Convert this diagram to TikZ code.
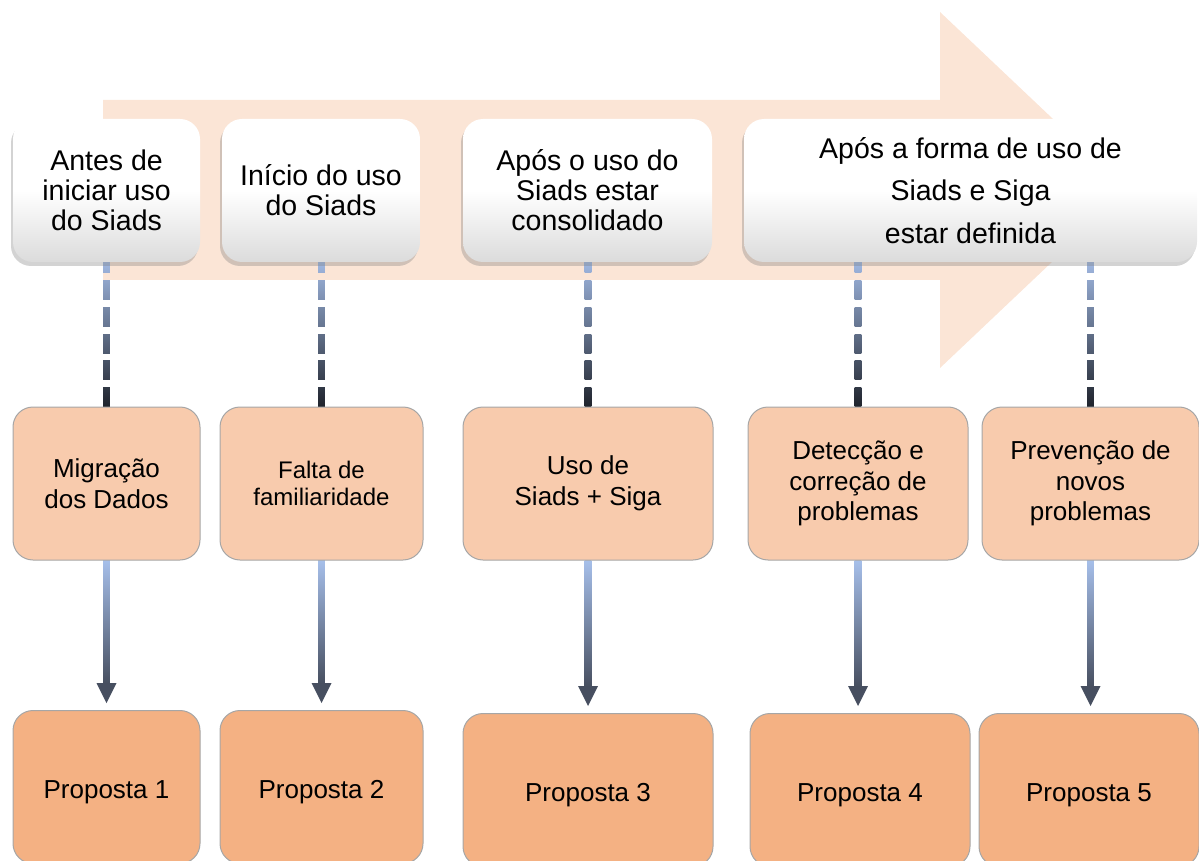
\documentclass[tikz,border=0pt]{standalone}
\usepackage{fontspec}
\setmainfont{Liberation Sans}
\usepackage{tikz}
\usetikzlibrary{calc}
\usetikzlibrary{shadows}

\definecolor{seta}{HTML}{FBE5D6}
\definecolor{laranjaclaro}{HTML}{F8CBAD}
\definecolor{laranja}{HTML}{F4B183}
\definecolor{borda}{HTML}{A6A6A6}
\definecolor{azulclaro}{HTML}{A6BFEA}
\definecolor{escuro}{HTML}{1F232C}
\definecolor{ardosia}{HTML}{474F60}

\pgfdeclarelayer{fundo}
\pgfdeclarelayer{linhas}
\pgfsetlayers{fundo,linhas,main}

\begin{document}
\begin{tikzpicture}[x=0.5pt, y=-0.5pt,
    fase/.style={rounded corners=10pt, top color=white, bottom color=black!14, middle color=white,
        drop shadow={opacity=0.35, shadow xshift=-1pt, shadow yshift=-2pt},
        align=center, minimum height=71.5pt, inner sep=0pt, font=\fontsize{14.25}{15}\selectfont},
    causa/.style={rounded corners=10pt, draw=borda, line width=0.5pt, fill=laranjaclaro,
        align=center, minimum height=76.5pt, inner sep=0pt, font=\fontsize{13}{15.25}\selectfont,
        execute at begin node={\rule{0pt}{1.05em}}},
    proposta/.style={causa, fill=laranja,
        execute at begin node={\rule{0pt}{1.13em}}, execute at end node={\rule[-0.25em]{0pt}{0pt}}}]
        \useasboundingbox (0,0) rectangle (1199,861);
        \begin{pgfonlayer}{fundo}
            \fill [seta] (103,100) -- (940,100) -- (940,12) -- (1128,190) -- (940,368) -- (940,280) -- (103,280) -- cycle;
        \end{pgfonlayer}
        \node [fase, minimum width=93.5pt] (t1) at (106.5,190.5) {Antes de\\iniciar uso\\do Siads};
        \node [fase, minimum width=99pt] (t2) at (321,190.5) {Início do uso\\do Siads};
        \node [fase, minimum width=124.5pt] (t3) at (587.5,190.5) {Após o uso do\\Siads estar\\consolidado};
        \node [fase, minimum width=226.5pt, font=\fontsize{14.25}{21.25}\selectfont] (t4) at (970.5,190.5) {Após a forma de uso de\\Siads e Siga\\estar definida};
        \node [causa, minimum width=93.5pt] (m1) at (106.5,483.5) {Migração\\dos Dados};
        \node [causa, minimum width=101.5pt, font=\fontsize{12}{13.5}\selectfont] (m2) at (321.5,483.5) {Falta de\\familiaridade};
        \node [causa, minimum width=125pt] (m3) at (588,483.5) {Uso de\\Siads + Siga};
        \node [causa, minimum width=110pt] (m4) at (858,483.5) {Detecção e\\correção de\\problemas};
        \node [causa, minimum width=108.5pt] (m5) at (1090.5,483.5) {Prevenção de\\novos\\problemas};
        \node [proposta, minimum width=93.5pt] (b1) at (106.5,787) {Proposta 1};
        \node [proposta, minimum width=101.5pt] (b2) at (321.5,787) {Proposta 2};
        \node [proposta, minimum width=125pt] (b3) at (588,790) {Proposta 3};
        \node [proposta, minimum width=110pt] (b4) at (860,790) {Proposta 4};
        \node [proposta, minimum width=110pt] (b5) at (1089,790) {Proposta 5};
        \begin{pgfonlayer}{linhas}
            \foreach \t/\m/\b in {t1/m1/b1, t2/m2/b2, t3/m3/b3, t4/m4/b4, t4/m5/b5} {
                \foreach \k in {0,...,5} {
                    \pgfmathtruncatemacro{\pa}{100*(134-26.7*\k)/153}
                    \pgfmathtruncatemacro{\pb}{100*(153-26.7*\k)/153}
                    \shade [top color=escuro!\pa!azulclaro, bottom color=escuro!\pb!azulclaro]
                        ($(\m.north)+(-3.3,-26.7*\k-19)$) rectangle ($(\m.north)+(3.3,-26.7*\k)$);
                }
                \shade [top color=azulclaro, bottom color=ardosia]
                    ($(\m.south)+(-3.3,0)$) rectangle ($(\m.south |- \b.north)+(3.3,-26)$);
                \fill [ardosia] ($(\m.south |- \b.north)+(-10,-27)$) -- ($(\m.south |- \b.north)+(10,-27)$)
                    -- ($(\m.south |- \b.north)+(0,-7)$) -- cycle;
            }
        \end{pgfonlayer}
    \end{tikzpicture}
\end{document}
